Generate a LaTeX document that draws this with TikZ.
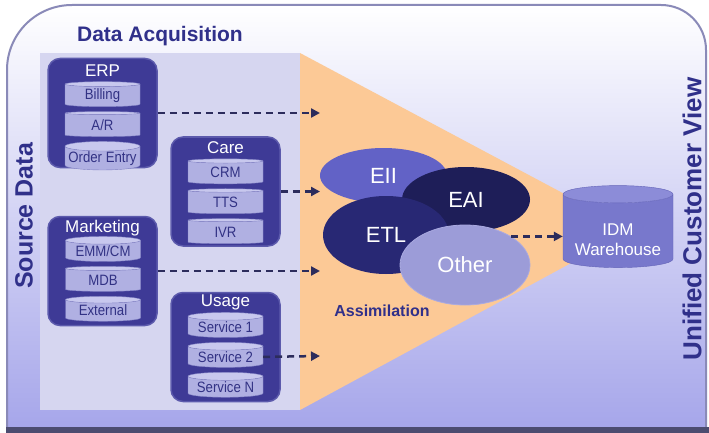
\documentclass[tikz,border=0pt]{standalone}
\usepackage{fontspec}
\setmainfont{Liberation Sans}
\newfontfamily\narrowsans[FakeStretch=0.88]{Liberation Sans}
\usetikzlibrary{positioning,shapes.geometric,arrows.meta}

\definecolor{navy}{RGB}{48,48,138}
\definecolor{framelow}{RGB}{166,166,234}
\definecolor{frameedge}{RGB}{138,138,184}
\definecolor{bottomband}{RGB}{76,76,112}
\definecolor{panel}{RGB}{214,214,240}
\definecolor{assim}{RGB}{252,201,150}
\definecolor{groupblue}{RGB}{62,58,150}
\definecolor{groupedge}{RGB}{92,90,172}
\definecolor{diskbody}{RGB}{176,176,226}
\definecolor{disktop}{RGB}{200,200,238}
\definecolor{diskedge}{RGB}{130,130,196}
\definecolor{disktext}{RGB}{50,50,132}
\definecolor{eiicol}{RGB}{98,98,198}
\definecolor{eaicol}{RGB}{30,30,88}
\definecolor{etlcol}{RGB}{40,40,116}
\definecolor{othercol}{RGB}{156,156,216}
\definecolor{otheredge}{RGB}{170,170,224}
\definecolor{whbody}{RGB}{120,120,204}
\definecolor{whtop}{RGB}{140,140,216}
\definecolor{whedge}{RGB}{100,100,184}
\definecolor{arrowcol}{RGB}{44,44,92}

\tikzset{
  group/.style={rounded corners=12pt, fill=groupblue, draw=groupedge, line width=1.5pt,
    minimum width=109pt, minimum height=109pt},
  grouptitle/.style={text=white, font=\fontsize{17}{17}\selectfont},
  disk/.style={cylinder, shape border rotate=90, aspect=0.14, draw=diskedge,
    cylinder uses custom fill, cylinder body fill=diskbody, cylinder end fill=disktop,
    minimum width=75pt, minimum height=25pt, inner sep=0pt, text=disktext,
    font=\narrowsans\fontsize{15}{15}\selectfont},
  blob/.style={ellipse, inner sep=0pt, text=white, font=\fontsize{22}{22}\selectfont},
  sidelabel/.style={rotate=90, text=navy, font=\bfseries\fontsize{25}{25}\selectfont},
  feed/.style={->, draw=arrowcol, line width=2.5pt, dash pattern=on 7pt off 5pt}
}

\begin{document}
\begin{tikzpicture}[x=1pt,y=-1pt,>={Triangle[length=9pt,width=9pt]}]
\useasboundingbox (0,0) rectangle (709,433);
\fill[white] (0,0) rectangle (709,433);

% outer frame
\shade[top color=white, bottom color=framelow]
  (7,428) -- (7,70) .. controls (7,34) and (36,5) .. (72,5) -- (661,5)
  .. controls (686,5) and (706,25) .. (706,50) -- (706,428) -- cycle;
\draw[frameedge, line width=2pt]
  (7,428) -- (7,70) .. controls (7,34) and (36,5) .. (72,5) -- (661,5)
  .. controls (686,5) and (706,25) .. (706,50) -- (706,428);
\fill[bottomband] (6,427) rectangle (709,433);

% source panel and assimilation wedge
\fill[panel] (40,53) rectangle (300,410);
\fill[assim] (300,53) -- (632,230) -- (300,410) -- cycle;

\node (acqlabel) at (160,36) [text=navy, font=\bfseries\fontsize{21}{21}\selectfont] {Data Acquisition};
\node (srclabel) at (24,216) [sidelabel] {Source Data};
\node (viewlabel) at (692,219) [sidelabel, font=\bfseries\fontsize{26}{26}\selectfont] {Unified Customer View};

% source groups
\node (erp) at (102.5,113) [group] {};
\node (care) at (225.5,191.5) [group] {};
\node (mkt) at (102.5,271) [group] {};
\node (usage) at (225.5,347) [group] {};

\node (erptitle) at (102.5,71) [grouptitle] {ERP};
\node (caretitle) at (225.5,148) [grouptitle] {Care};
\node (mkttitle) at (102.5,228.5) [grouptitle] {Marketing};
\node (usagetitle) at (225.5,302) [grouptitle] {Usage};

\node (billing) at (102.5,95.5) [disk] {Billing};
\node (ar) [disk, below=4.5pt of billing] {A/R};
\node (orderentry) [disk, below=4.5pt of ar] {Order Entry};

\node (crm) at (225.5,172.5) [disk] {CRM};
\node (tts) [disk, below=4.5pt of crm] {TTS};
\node (ivr) [disk, below=4.5pt of tts] {IVR};

\node (emmcm) at (103,251) [disk] {EMM/CM};
\node (mdb) [disk, below=4.5pt of emmcm] {MDB};
\node (external) [disk, below=4.5pt of mdb] {External};

\node (svc1) at (225.5,327) [disk] {Service 1};
\node (svc2) [disk, below=4.5pt of svc1] {Service 2};
\node (svcn) [disk, below=4.5pt of svc2] {Service N};

% integration styles
\node (eii) at (383.5,175.5) [blob, fill=eiicol, minimum width=127pt, minimum height=55pt] {EII};
\node (eai) at (466,199.5) [blob, fill=eaicol, minimum width=128pt, minimum height=65pt] {EAI};
\node (etl) at (386,235) [blob, fill=etlcol, minimum width=126pt, minimum height=78pt] {ETL};
\node (other) at (465,265) [blob, fill=othercol, draw=otheredge, line width=0.8pt,
  minimum width=130pt, minimum height=80pt] {Other};
\node (assimlabel) at (382,311) [text=navy, font=\bfseries\fontsize{16}{16}\selectfont] {Assimilation};

% warehouse
\node (idm) at (618,231) [cylinder, shape border rotate=90, aspect=0.2, draw=whedge,
  cylinder uses custom fill, cylinder body fill=whbody, cylinder end fill=whtop,
  minimum width=110pt, minimum height=82pt, inner sep=0pt,
  text=white, font=\fontsize{17}{20}\selectfont]
  {\raisebox{-10pt}[\height][\depth]{\begin{tabular}{@{}c@{}}IDM\\Warehouse\end{tabular}}};

% feeds
\coordinate (in1) at (320,113);
\coordinate (in2) at (320,191.5);
\coordinate (in3) at (320,271);
\coordinate (in4) at (320,356);
\draw[feed] (erp.east) -- (in1);
\draw[feed] (care.east) -- (in2);
\draw[feed] (mkt.east) -- (in3);
\draw[feed] (svc2.east) -- (in4);
\draw[feed] (other.north east) -- (other.north east -| idm.west);
\end{tikzpicture}
\end{document}
